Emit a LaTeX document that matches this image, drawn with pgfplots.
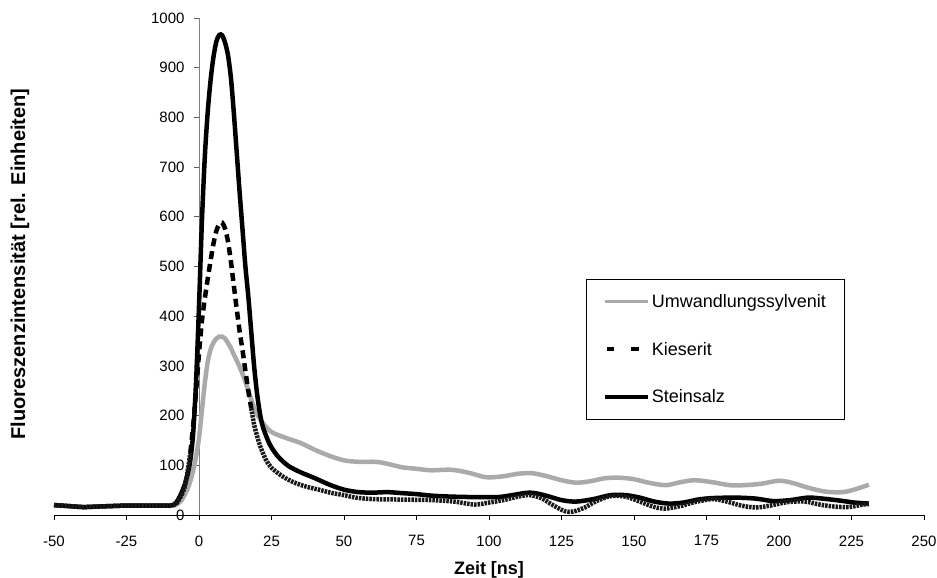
\documentclass[border=0pt]{standalone}
\usepackage{fontspec}
\setmainfont{Liberation Sans}
\usepackage{pgfplots}
\pgfplotsset{compat=1.18}
\definecolor{sylv}{RGB}{170,170,170}
\begin{document}
\begin{tikzpicture}
\begin{axis}[
  scale only axis, width=870pt, height=497pt,
  at={(0pt,0pt)}, anchor=south west,
  xmin=-50, xmax=250, ymin=0, ymax=1000,
  axis x line=bottom, axis y line=middle,
  axis line style={-},
  x axis line style={black, line width=0.8pt},
  y axis line style={gray, line width=0.8pt},
  hide obscured x ticks=false, hide obscured y ticks=false,
  xtick={-50,-25,0,25,50,75,100,125,150,175,200,225,250},
  xticklabels={-50,-25,0,25,50,75,100,125,150,175,200,225,250},
  ytick={0,100,200,300,400,500,600,700,800,900,1000},
  yticklabels={0,100,200,300,400,500,600,700,800,900,1000},
  tick align=outside, major tick length=5pt,
  xtick style={black, line width=0.8pt},
  ytick style={gray!70!black, line width=0.8pt},
  ticklabel style={font=\fontsize{15}{18}\selectfont},
  xticklabel style={yshift=-12pt},
  yticklabel style={xshift=-6pt},
  xlabel={Zeit [ns]},
  ylabel={Fluoreszenzintensität [rel. Einheiten]},
  every axis x label/.style={at={(axis description cs:0.5,-0.111)}, anchor=center, font=\bfseries\fontsize{18}{21}\selectfont},
  every axis y label/.style={at={(axis description cs:-0.039,0.505)}, anchor=center, rotate=90, font=\bfseries\fontsize{20}{23}\selectfont},
  legend style={at={(axis description cs:0.6115,0.4748)}, anchor=north west, draw=black, line width=0.8pt, fill=white, font=\fontsize{18}{21}\selectfont, row sep=29pt, inner xsep=16pt, inner ysep=13pt},
  legend cell align=left,
  legend image code/.code={\draw[#1] (0pt,0pt) -- (43pt,0pt);},
]
\addplot[sylv, line width=4.5pt, smooth,
  legend image code/.code={\draw[sylv, line width=3.5pt] (0pt,0pt) -- (43pt,0pt);}] coordinates {
(-50,19) (-45,18) (-40,16) (-35,17) (-30,18) (-25,19) (-20,19) (-15,19) (-10,19) (-8,20)
(-7,24) (-6,30) (-5,40) (-4,52) (-3,68) (-2,90) (-1,118) (0,155) (1,210) (2,265) (3,308)
(4,333) (5,347) (6,355) (7,359) (8,359) (9,355) (10,346) (11,336) (12,323) (13,311) (14,298)
(15,284) (16,268) (17,250) (18,232) (19,216) (20,203) (22,185) (25,167) (30,155) (35,145)
(40,131) (45,119) (50,110) (55,107) (61,107) (65,103) (70,96) (75,93) (80,90) (87,91)
(93,85) (99,76) (105,78) (110,83) (115,84) (120,78) (125,70) (130,65) (135,68) (140,74)
(145,75) (150,72) (155,65) (161,60) (166,66) (171,70) (177,66) (183,60) (188,60) (194,63)
(200,69) (205,64) (210,55) (216,47) (222,46) (227,53) (231,61)
};
\addlegendentry{Umwandlungssylvenit}
\addplot[black, line width=4.5pt, dash pattern=on 8pt off 5pt, smooth,
  legend image code/.code={\draw[black, line width=4.5pt] (2pt,0pt) -- (9pt,0pt) (26pt,0pt) -- (34pt,0pt);}] coordinates {
(-3,125) (-2,180) (-1,250) (0,325) (1,390) (2,435) (3,475)
(4,512) (5,546) (6,572) (7,585) (8,588) (9,576) (10,550) (11,510) (12,462) (13,415) (14,370)
(15,332) (16,290) (17,250) (18,215)
};
\addlegendentry{Kieserit}
\addplot[black, line width=4.5pt, smooth] coordinates {
(-50,20) (-45,18) (-40,16) (-35,17) (-30,18) (-25,19) (-20,19) (-15,19) (-10,19) (-9,20)
(-8,24) (-7,33) (-6,45) (-5,60) (-4,80) (-3,110) (-2,165) (-1,270) (0,420) (1,590) (2,720)
(3,810) (4,875) (5,922) (6,953) (7,966) (8,965) (9,950) (10,925) (11,880) (12,810) (13,730)
(14,650) (15,575) (16,500) (17,440) (18,370) (19,300) (20,245) (21,205) (22,178) (24,147)
(26,127) (28,113) (31,98) (35,86) (40,74) (45,61) (50,51) (55,46) (60,45) (65,46) (70,44)
(75,42) (80,39) (87,37) (95,36) (103,36) (108,40) (114,45) (119,40) (125,30) (130,27)
(136,32) (142,40) (147,40) (152,35) (157,27) (162,23) (167,25) (172,31) (177,34) (185,35)
(192,33) (198,28) (204,30) (210,35) (215,33) (221,29) (226,25) (231,23)
};
\addlegendentry{Steinsalz}
\addplot[black!90, line width=4.5pt, dash pattern=on 2.5pt off 1pt, smooth, forget plot] coordinates {
(-50,20) (-45,18) (-40,16) (-35,17) (-30,18) (-25,19) (-20,19) (-15,19) (-10,19) (-8,22)
(-7,30) (-6,40) (-5,55) (-4,85) (-3,125)
};
\addplot[black!90, line width=4.5pt, dash pattern=on 2.5pt off 1pt, smooth, forget plot] coordinates {
(18,215) (19,182) (20,160) (21,140) (23,112) (25,95) (29,77)
(33,65) (37,57) (42,50) (46,44) (50,40) (54,35) (60,32) (70,31) (80,30) (88,27) (95,21)
(100,25) (105,30) (110,37) (114,40) (118,34) (122,20) (126,8) (129,7) (133,15) (137,28)
(142,38) (147,37) (152,27) (157,16) (161,13) (166,18) (171,26) (177,32) (182,27) (187,19)
(192,15) (197,19) (203,26) (209,27) (214,21) (219,17) (224,16) (229,21) (231,22)
};
\end{axis}
\pgfresetboundingbox
\path (-54pt,-63pt) rectangle (883pt,515pt);
\end{tikzpicture}
\end{document}
